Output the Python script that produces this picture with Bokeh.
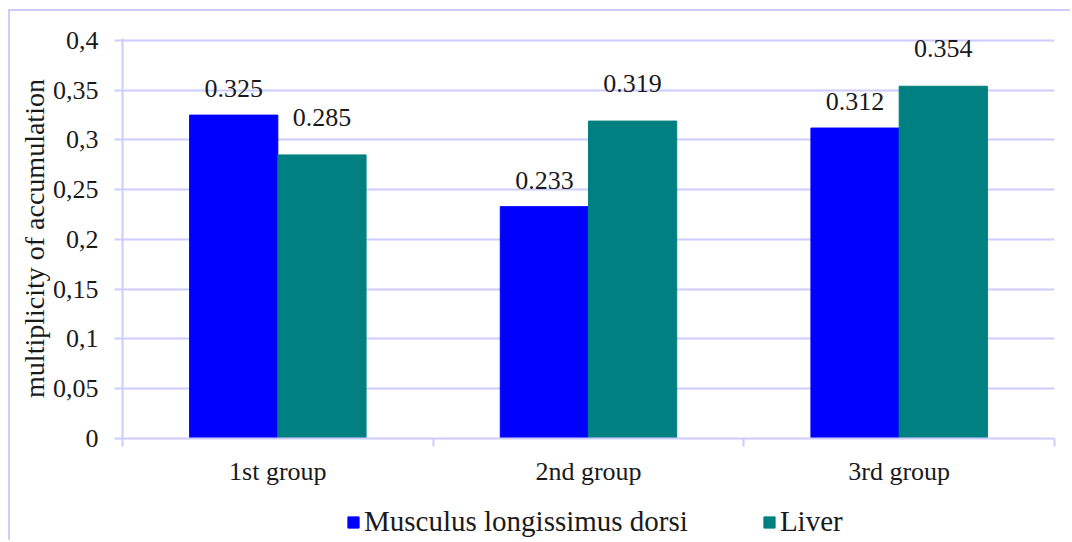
import numpy as np
from bokeh.plotting import figure
from bokeh.layouts import column, row
from bokeh.models import (Range1d, FixedTicker, Legend, LegendItem, ColumnDataSource, Spacer)
from bokeh.core.properties import value
from bokeh.embed import file_html
from bokeh.resources import INLINE

groups = ["1st group", "2nd group", "3rd group"]
muscle = [0.325, 0.233, 0.312]
liver = [0.285, 0.319, 0.354]
series_names = ["Musculus longissimus dorsi", "Liver"]
y_ticks = [0, 0.05, 0.1, 0.15, 0.2, 0.25, 0.3, 0.35, 0.4]
y_tick_labels = ["0", "0,05", "0,1", "0,15", "0,2", "0,25", "0,3", "0,35", "0,4"]

FONT = "Liberation Serif"
GRID = "#ccccff"
BLUE = "#0000ff"
TEAL = "#008080"
TXT = "#1a1a1a"
BORDER = "2px solid #ccccff"

W = 0.284
idx = np.arange(len(groups))
centers = idx + 0.5

p = figure(width=1062, height=482, output_backend="svg", toolbar_location=None,
           x_range=Range1d(0, 3), y_range=Range1d(0, 0.402),
           min_border_left=112, min_border_right=18, min_border_top=27,
           min_border_bottom=55)
p.styles = {"border-left": BORDER, "border-top": BORDER}
p.outline_line_color = None
p.background_fill_color = "white"

src_m = ColumnDataSource(dict(x=centers - W / 2, top=muscle,
                              lab=[f"{v:.3f}" for v in muscle]))
src_l = ColumnDataSource(dict(x=centers + W / 2, top=liver,
                              lab=[f"{v:.3f}" for v in liver]))

p.vbar(x="x", top="top", width=W, bottom=0, source=src_m,
       fill_color=BLUE, line_color=BLUE)
p.vbar(x="x", top="top", width=W, bottom=0, source=src_l,
       fill_color=TEAL, line_color=TEAL)

for src, off in ((src_m, -18), (src_l, -29)):
    p.text(x="x", y="top", text="lab", source=src, y_offset=off,
           text_align="center", text_baseline="bottom",
           text_font=value(FONT), text_font_size="26px", text_color=TXT)

# x axis
p.xaxis.ticker = FixedTicker(ticks=list(centers), minor_ticks=list(np.arange(len(groups) + 1)))
p.xaxis.major_label_overrides = {float(c): g for c, g in zip(centers, groups)}
p.xaxis.major_tick_line_color = None
p.xaxis.major_tick_out = 0
p.xaxis.major_tick_in = 0
p.xaxis.minor_tick_out = 8
p.xaxis.minor_tick_in = 0
p.xaxis.minor_tick_line_color = GRID
p.xaxis.minor_tick_line_width = 2
p.xaxis.axis_line_color = GRID
p.xaxis.axis_line_width = 2
p.xaxis.major_label_standoff = 10
p.xaxis.major_label_text_font = FONT
p.xaxis.major_label_text_font_size = "26px"
p.xaxis.major_label_text_color = TXT
p.xgrid.grid_line_color = None

# y axis
p.yaxis.ticker = FixedTicker(ticks=y_ticks, minor_ticks=[])
p.yaxis.major_label_overrides = {t: l for t, l in zip(y_ticks, y_tick_labels)}
p.yaxis.axis_line_color = GRID
p.yaxis.axis_line_width = 2
p.yaxis.major_tick_line_color = GRID
p.yaxis.major_tick_line_width = 2
p.yaxis.major_tick_out = 8
p.yaxis.major_tick_in = 0
p.yaxis.minor_tick_line_color = None
p.yaxis.major_label_standoff = 16
p.yaxis.major_label_text_font = FONT
p.yaxis.major_label_text_font_size = "26px"
p.yaxis.major_label_text_color = TXT
p.yaxis.axis_label = "multiplicity of accumulation"
p.yaxis.axis_label_text_font = FONT
p.yaxis.axis_label_text_font_size = "28px"
p.yaxis.axis_label_text_font_style = "normal"
p.yaxis.axis_label_text_color = TXT
p.yaxis.axis_label_standoff = 0
p.ygrid.grid_line_color = GRID
p.ygrid.grid_line_width = 2

# legend strip below the chart (its bars lie outside its visible range)
lf = figure(width=1062, height=49, output_backend="svg", toolbar_location=None,
            x_range=Range1d(0, 3), y_range=Range1d(10, 11),
            x_axis_type=None, y_axis_type=None, min_border=0)
lf.styles = {"border-left": BORDER}
lf.outline_line_color = None
lf.xgrid.grid_line_color = None
lf.ygrid.grid_line_color = None
lr1 = lf.vbar(x="x", top="top", width=W, bottom=0, source=src_m,
              fill_color=BLUE, line_color=BLUE)
lr2 = lf.vbar(x="x", top="top", width=W, bottom=0, source=src_l,
              fill_color=TEAL, line_color=TEAL)
legend = Legend(items=[LegendItem(label=series_names[0], renderers=[lr1]),
                       LegendItem(label=series_names[1], renderers=[lr2])],
                orientation="horizontal", location=(224, 2),
                glyph_width=14, glyph_height=14, label_standoff=4, spacing=74,
                padding=0, margin=0, border_line_color=None,
                background_fill_alpha=0,
                label_text_font=FONT, label_text_font_size="29px",
                label_text_color=TXT)
lf.add_layout(legend, "center")

layout = column(Spacer(height=9), row(Spacer(width=8), column(p, lf)))
open("out.html", "w").write(file_html(layout, INLINE))
